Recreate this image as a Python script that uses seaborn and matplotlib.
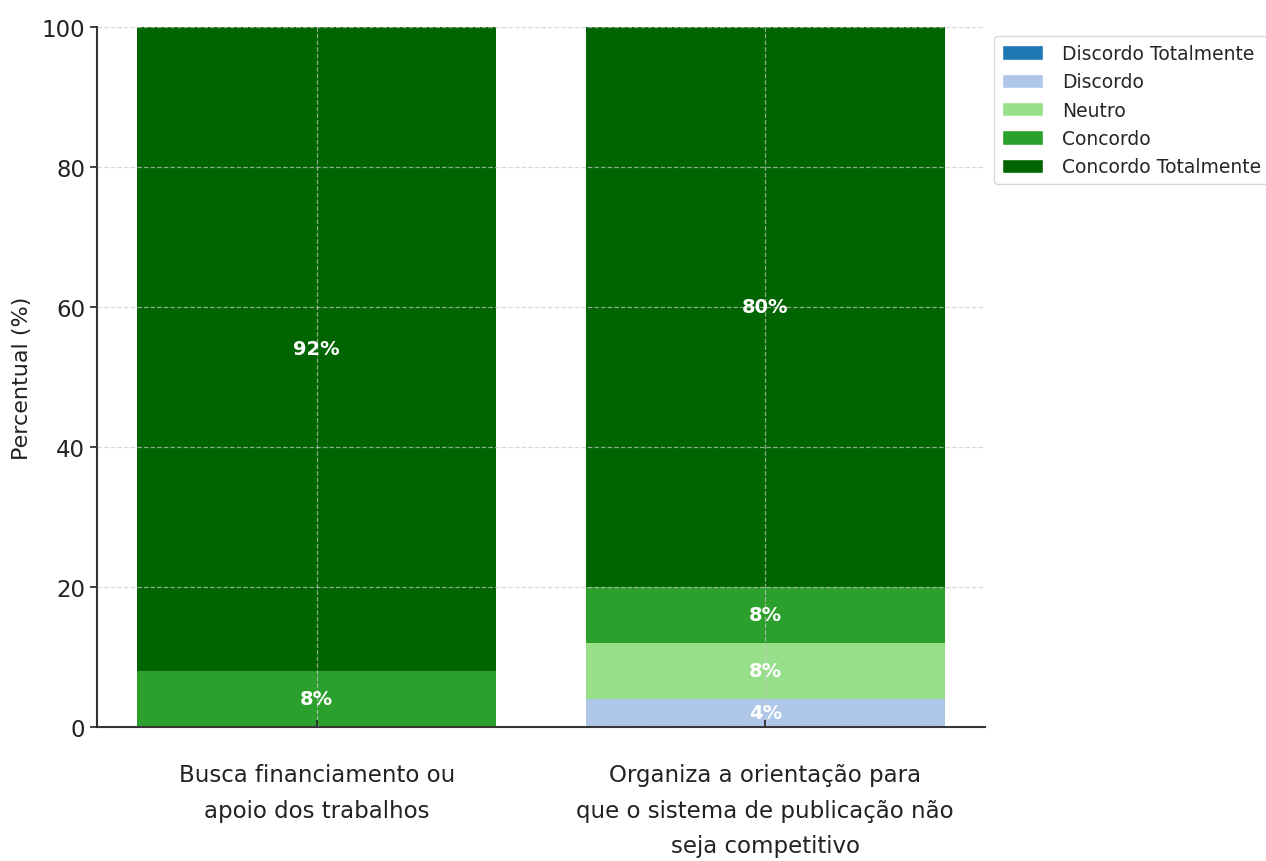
import matplotlib
matplotlib.use("Agg")
import matplotlib.pyplot as plt
from matplotlib.patches import Patch
import numpy as np
import pandas as pd
import seaborn as sns

# categories (x axis), wrapped as in the original
categories = [
    "Busca financiamento ou\napoio dos trabalhos",
    "Organiza a orientação para\nque o sistema de publicação não\nseja competitivo",
]
levels = ["Discordo Totalmente", "Discordo", "Neutro", "Concordo", "Concordo Totalmente"]
colors = ["#1f77b4", "#aec7e8", "#98df8a", "#2ca02c", "#006400"]

# percentages per level, one value per category
discordo_totalmente = [0, 0]
discordo = [0, 4]
neutro = [0, 8]
concordo = [8, 8]
concordo_totalmente = [92, 80]

values = np.array([discordo_totalmente, discordo, neutro, concordo, concordo_totalmente], dtype=float)
cum = values.cumsum(axis=0)

sns.set_theme(style="white")
plt.rcParams["font.family"] = ["DejaVu Sans"]

fig, ax = plt.subplots(figsize=(12.66, 8.62), dpi=100)
fig.subplots_adjust(left=0.0766, right=0.778, top=0.9675, bottom=0.1555)

# stacked bars: draw cumulative totals from the top level down
for i in range(len(levels) - 1, -1, -1):
    df = pd.DataFrame({"cat": categories, "val": cum[i]})
    sns.barplot(data=df, x="cat", y="val", color=colors[i], saturation=1,
                width=0.8, linewidth=0, ax=ax)

# percentage labels inside each non-empty segment
for i in range(len(levels)):
    for j in range(len(categories)):
        v = values[i, j]
        if v > 0:
            ax.text(j, cum[i, j] - v / 2, f"{v:.0f}%", ha="center", va="center",
                    color="white", fontsize=14, fontweight="bold")

ax.set_ylim(0, 100)
ax.set_xlim(-0.49, 1.49)
ax.set_xlabel("")
ax.set_ylabel("Percentual (%)", fontsize=16, color="#222222", labelpad=7)
ax.tick_params(axis="y", labelsize=16.5, colors="#222222", length=5, width=1.2, left=True)
ax.tick_params(axis="x", labelsize=16.5, colors="#222222", length=5, width=1.2,
               bottom=True, direction="in", pad=26)
for lab in ax.get_xticklabels():
    lab.set_linespacing(1.7)

ax.set_axisbelow(False)
ax.grid(True, linestyle="--", color="#c8c8c8", linewidth=0.9, alpha=0.7)
sns.despine(ax=ax)
for s in ["left", "bottom"]:
    ax.spines[s].set_color("#333333")
    ax.spines[s].set_linewidth(1.5)

handles = [Patch(facecolor=c, label=l) for c, l in zip(colors, levels)]
ax.legend(handles=handles, loc="upper left", bbox_to_anchor=(1.0, 1.0),
          fontsize=13.5, frameon=True, edgecolor="#cccccc", fancybox=True,
          handlelength=2.2, handleheight=0.8, labelspacing=0.5, handletextpad=1.0)

fig.savefig("out.png", dpi=100)
